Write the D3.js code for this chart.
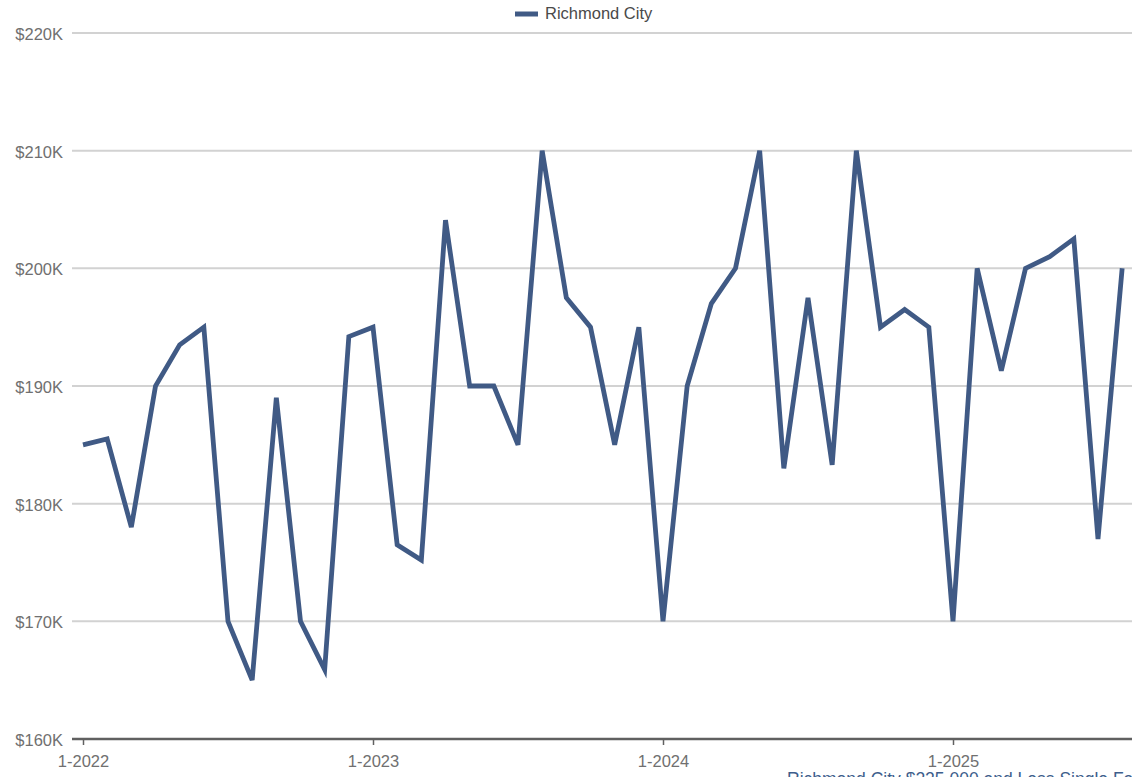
<!DOCTYPE html>
<html>
<head>
<meta charset="utf-8">
<script src="https://cdn.jsdelivr.net/npm/d3@7"></script>
<style>
  html, body { margin: 0; padding: 0; background: #fff; overflow: hidden; }
  svg { display: block; font-family: "Liberation Sans", Arial, Helvetica, sans-serif; }
</style>
</head>
<body>
<svg id="chart" width="1132" height="777"></svg>
<script>
// Monthly median sales price, Richmond City, Jan 2022 – Aug 2025
const months = [
  "1-2022","2-2022","3-2022","4-2022","5-2022","6-2022","7-2022","8-2022","9-2022","10-2022","11-2022","12-2022",
  "1-2023","2-2023","3-2023","4-2023","5-2023","6-2023","7-2023","8-2023","9-2023","10-2023","11-2023","12-2023",
  "1-2024","2-2024","3-2024","4-2024","5-2024","6-2024","7-2024","8-2024","9-2024","10-2024","11-2024","12-2024",
  "1-2025","2-2025","3-2025","4-2025","5-2025","6-2025","7-2025","8-2025"
];
const richmondCity = [
  185000,185500,178000,190000,193500,195000,170000,165000,189000,170000,165900,194200,
  195000,176500,175200,204100,190000,190000,185000,210000,197500,195000,185000,195000,
  170000,190000,197000,200000,210000,183000,197500,183300,210000,195000,196500,195000,
  170000,200000,191300,200000,201000,202500,177000,200000
];
const yTicks = [160000,170000,180000,190000,200000,210000,220000];
const xTickLabels = ["1-2022","1-2023","1-2024","1-2025"];
const seriesName = "Richmond City";
const footnote = "Richmond City $225,000 and Less Single Family";

const svg = d3.select("#chart");
const lineColor = "#405a85";
const labelColor = "#707070";

const x = d3.scaleLinear().domain([0, 36]).range([83, 953]);
const y = d3.scaleLinear().domain([160000, 220000]).range([739, 33]);

// horizontal gridlines
svg.append("g")
  .selectAll("line")
  .data(yTicks.slice(1))
  .join("line")
  .attr("x1", 72).attr("x2", 1140)
  .attr("y1", d => y(d)).attr("y2", d => y(d))
  .attr("stroke", "#d2d2d2")
  .attr("stroke-width", 2);

// y axis labels
svg.append("g")
  .selectAll("text")
  .data(yTicks)
  .join("text")
  .attr("x", 63)
  .attr("y", d => y(d) + 7)
  .attr("text-anchor", "end")
  .attr("fill", labelColor)
  .attr("font-size", 16.5)
  .text(d => "$" + d3.format(",")(d / 1000) + "K");

// x axis
const xTickIdx = xTickLabels.map(l => months.indexOf(l));
const xAxis = d3.axisBottom(x)
  .tickValues(xTickIdx)
  .tickSize(6)
  .tickSizeOuter(0)
  .tickFormat(i => months[i]);
const gx = svg.append("g")
  .attr("transform", `translate(0,${y(160000)})`)
  .call(xAxis);
gx.select(".domain").remove();
gx.append("line")
  .attr("x1", 72).attr("x2", 1140)
  .attr("stroke", "#606060").attr("stroke-width", 2.5);
gx.selectAll(".tick line").attr("stroke", "#606060").attr("stroke-width", 1.5);
gx.selectAll(".tick text")
  .attr("fill", labelColor)
  .attr("font-size", 16.5)
  .attr("y", 28)
  .attr("dy", 0)
  .style("font-family", "'Liberation Sans', Arial, sans-serif");

// series line
const line = d3.line()
  .x((d, i) => x(i))
  .y(d => y(d));
svg.append("path")
  .datum(richmondCity)
  .attr("d", line)
  .attr("fill", "none")
  .attr("stroke", lineColor)
  .attr("stroke-width", 4.8)
  .attr("stroke-linejoin", "miter")
  .attr("stroke-miterlimit", 4);

// legend
const lg = svg.append("g").attr("transform", "translate(515,14)");
lg.append("line")
  .attr("x1", 0).attr("x2", 23)
  .attr("stroke", lineColor).attr("stroke-width", 5);
lg.append("text")
  .attr("x", 30).attr("y", 5)
  .attr("fill", "#4a4a4a")
  .attr("font-size", 16.5)
  .text(seriesName);

// footnote
svg.append("text")
  .attr("x", 787).attr("y", 785)
  .attr("fill", "#3d5e8c")
  .attr("font-size", 17.5)
  .text(footnote);
</script>
</body>
</html>
